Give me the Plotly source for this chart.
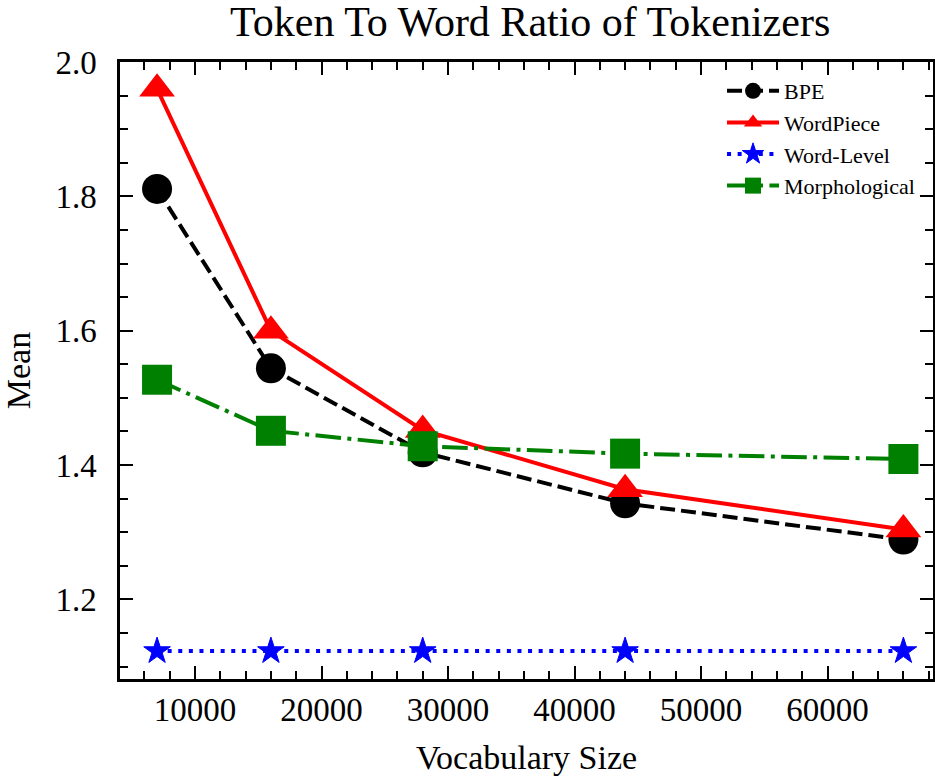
import plotly.graph_objects as go

vocab_sizes = [7000, 16000, 28000, 44000, 66000]
bpe = [1.811, 1.544, 1.419, 1.343, 1.289]
wordpiece = [1.960, 1.600, 1.452, 1.364, 1.304]
word_level = [1.123, 1.123, 1.123, 1.123, 1.123]
morphological = [1.527, 1.451, 1.428, 1.417, 1.409]

series_names = ["BPE", "WordPiece", "Word-Level", "Morphological"]
x_ticks = [10000, 20000, 30000, 40000, 50000, 60000]
y_ticks = [1.2, 1.4, 1.6, 1.8, 2.0]

FONT = "Liberation Serif, Times New Roman, serif"
LW = 4

fig = go.Figure()
fig.add_trace(go.Scatter(
    x=vocab_sizes, y=bpe, name=series_names[0], mode="lines+markers",
    line=dict(color="black", width=LW, dash="15px,6px"),
    marker=dict(symbol="circle", size=30, color="black", line=dict(width=0)),
))
fig.add_trace(go.Scatter(
    x=vocab_sizes, y=wordpiece, name=series_names[1], mode="lines+markers",
    line=dict(color="#ff0000", width=LW),
    marker=dict(symbol="triangle-up", size=31, color="#ff0000", line=dict(width=0)),
))
fig.add_trace(go.Scatter(
    x=vocab_sizes, y=word_level, name=series_names[2], mode="lines+markers",
    line=dict(color="#0000ff", width=LW, dash="4px,6.6px"),
    marker=dict(symbol="star", size=20, color="#0000ff", line=dict(width=1, color="#0000ff")),
))
fig.add_trace(go.Scatter(
    x=vocab_sizes, y=morphological, name=series_names[3], mode="lines+markers",
    line=dict(color="#008000", width=LW, dash="25.6px,6.4px,4px,6.4px"),
    marker=dict(symbol="square", size=30, color="#008000", line=dict(width=0)),
))

axis_common = dict(
    showline=True, linewidth=2.5, linecolor="black", mirror="ticks",
    ticks="inside", ticklen=13, tickwidth=2, tickcolor="black",
    showgrid=False, zeroline=False, automargin=False,
    tickfont=dict(family=FONT, size=33, color="black"),
)

fig.update_xaxes(
    **axis_common,
    range=[4070, 68340],
    tickvals=x_ticks, ticktext=[str(v) for v in x_ticks],
    minor=dict(dtick=2000, tick0=0, ticks="inside", ticklen=8, tickwidth=2, tickcolor="black"),
    title=dict(text="Vocabulary Size", font=dict(family=FONT, size=34, color="black"), standoff=19),
    ticklabelstandoff=0,
)
fig.update_yaxes(
    **axis_common,
    range=[1.0815, 2.0],
    tickvals=y_ticks, ticktext=[f"{v:.1f}" for v in y_ticks],
    minor=dict(dtick=0.05, tick0=0, ticks="inside", ticklen=8, tickwidth=2, tickcolor="black"),
    title=dict(text="Mean", font=dict(family=FONT, size=34, color="black"), standoff=18),
    ticklabelstandoff=14,
)

fig.update_layout(
    width=935, height=776,
    margin=dict(l=120, r=2, t=62, b=97),
    paper_bgcolor="white", plot_bgcolor="white",
    title=dict(text="Token To Word Ratio of Tokenizers", x=0.567, xanchor="center",
               y=0.972, yanchor="middle",
               font=dict(family=FONT, size=42, color="black")),
    legend=dict(x=0.7405, y=0.987, xanchor="left", yanchor="top",
                font=dict(family=FONT, size=22, color="black"),
                bgcolor="rgba(0,0,0,0)", borderwidth=0, itemwidth=52,
                tracegroupgap=0),
    showlegend=True,
)

fig.write_html(
    "out.html",
    config={"displayModeBar": False},
    post_script="document.body.style.margin='0';document.body.style.overflow='hidden';",
)
